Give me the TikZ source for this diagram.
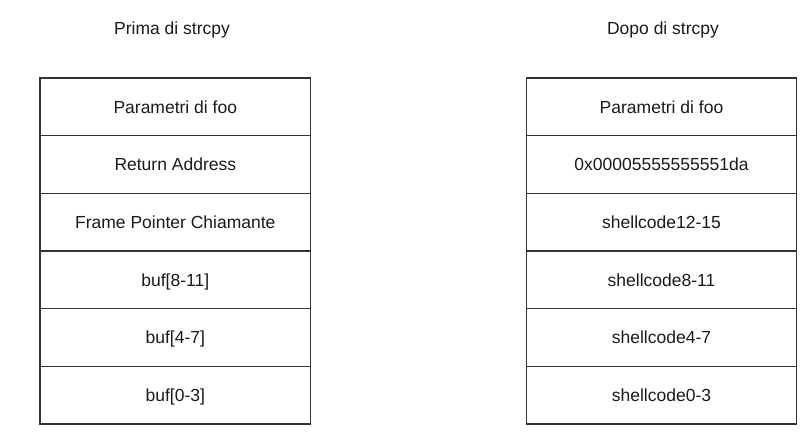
\documentclass[tikz,border=0pt]{standalone}
\usepackage{fontspec}
\setmainfont{Liberation Sans}
\definecolor{linegray}{HTML}{333333}
\definecolor{textgray}{HTML}{1A1A1A}
\begin{document}
\begin{tikzpicture}[x=1pt,y=-1pt,
  cell/.style={draw=linegray, line width=1.2pt, minimum width=270.7pt, minimum height=57.67pt,
    inner sep=0pt, text height=12.5pt, text depth=0pt, text=textgray,
    font=\fontsize{17.5}{21}\selectfont},
  ttl/.style={inner sep=0pt, text height=12.5pt, text depth=0pt, text=textgray,
    font=\fontsize{17.5}{21}\selectfont}]
\useasboundingbox (0,0) rectangle (804,433);
% titles
\node[ttl] (t1) at (172,28) {Prima di strcpy};
\node[ttl] (t2) at (663,28) {Dopo di strcpy};
% left stack
\node[cell] (l1) at (175.3,106.8) {Parametri di foo};
\node[cell] (l2) at (175.3,164.5) {Return Address};
\node[cell] (l3) at (175.3,222.2) {Frame Pointer Chiamante};
\node[cell] (l4) at (175.3,279.8) {buf[8-11]};
\node[cell] (l5) at (175.3,337.5) {buf[4-7]};
\node[cell] (l6) at (175.3,395.2) {buf[0-3]};
% right stack
\node[cell] (r1) at (661.5,106.8) {Parametri di foo};
\node[cell] (r2) at (661.5,164.5) {0x00005555555551da};
\node[cell] (r3) at (661.5,222.2) {shellcode12-15};
\node[cell] (r4) at (661.5,279.8) {shellcode8-11};
\node[cell] (r5) at (661.5,337.5) {shellcode4-7};
\node[cell] (r6) at (661.5,395.2) {shellcode0-3};
\end{tikzpicture}
\end{document}
